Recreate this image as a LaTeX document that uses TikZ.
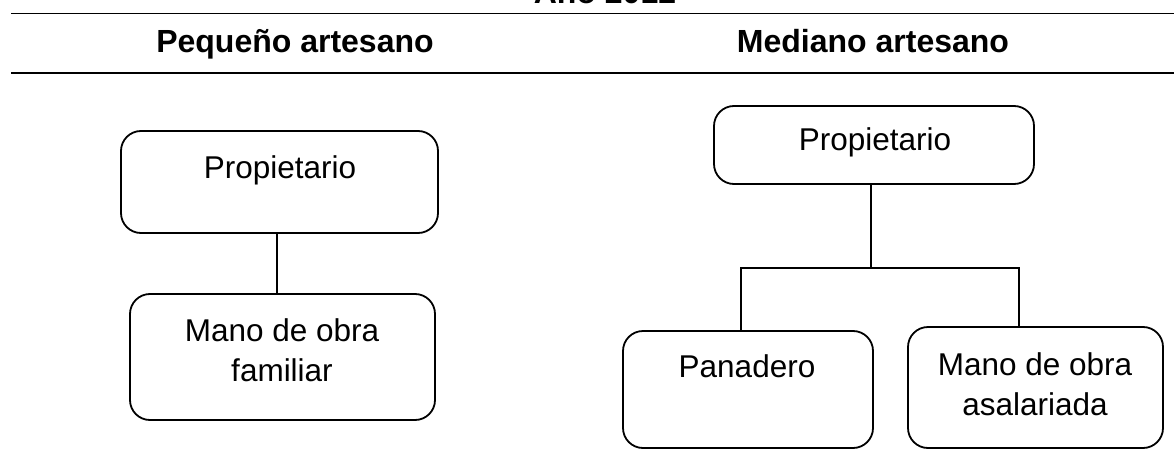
\documentclass[tikz,border=0pt]{standalone}
\usepackage{fontspec}
\setmainfont{Liberation Sans}
\begin{document}
\begin{tikzpicture}[x=1pt,y=-1pt]
\tikzset{
  box/.style={draw, line width=1.8pt, rounded corners=20pt, inner sep=0pt},
  lbl/.style={anchor=north, inner sep=0pt, align=center, font=\fontsize{31.5}{40}\selectfont},
  head/.style={anchor=base, inner sep=0pt, font=\bfseries\fontsize{32}{38}\selectfont},
  rulel/.style={line width=1.8pt},
  conn/.style={line width=1.8pt}
}
\useasboundingbox (0,0) rectangle (1174,465);
\clip (0,0) rectangle (1174,465);
% header
\node[head] (year) at (605,4) {Año 2012};
\coordinate (r1a) at (11,13.5);
\coordinate (r1b) at (1174,13.5);
\coordinate (r2a) at (11,73);
\coordinate (r2b) at (1174,73);
\draw[rulel] (r1a) -- (r1b);
\draw[rulel] (r2a) -- (r2b);
\node[head] (hl) at (295,53) {Pequeño artesano};
\node[head] (hr) at (873,53) {Mediano artesano};
% left chart
\node[box, minimum width=317pt, minimum height=102pt] (b1) at (279.5,182) {};
\node[lbl] (t1) at (280,155) {Propietario};
\node[box, minimum width=305pt, minimum height=126pt] (b2) at (282.5,357) {};
\node[lbl] (t2) at (282,318) {Mano de obra\\familiar};
\coordinate (lx) at (277,0);
\draw[conn] (b1.south -| lx) -- (b2.north -| lx);
% right chart
\node[box, minimum width=320pt, minimum height=78pt] (b3) at (874,145) {};
\node[lbl] (t3) at (875,127) {Propietario};
\node[box, minimum width=250pt, minimum height=117pt] (b4) at (748,389.5) {};
\node[lbl] (t4) at (747,354) {Panadero};
\node[box, minimum width=255pt, minimum height=121pt] (b5) at (1035.5,387.5) {};
\node[lbl] (t5) at (1035,352) {Mano de obra\\asalariada};
\coordinate (j) at (871,268);
\coordinate (jl) at (741,268);
\coordinate (jr) at (1019,268);
\draw[conn] (b3.south -| j) -- (j);
\draw[conn] (b4.north -| jl) -- (jl) -- (jr) -- (b5.north -| jr);
\end{tikzpicture}
\end{document}
